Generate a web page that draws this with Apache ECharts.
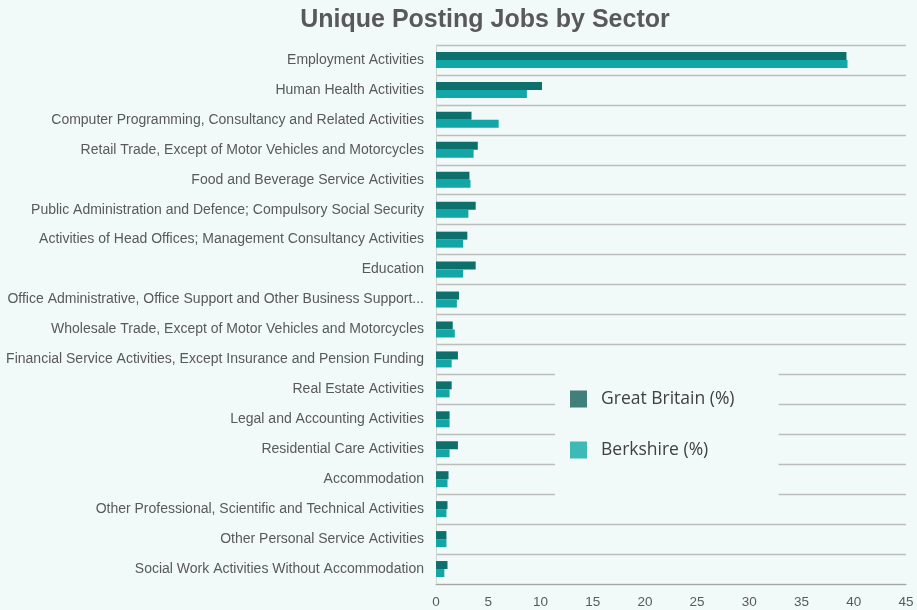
<!DOCTYPE html>
<html><head><meta charset="utf-8">
<script src="https://cdn.jsdelivr.net/npm/echarts@6/dist/echarts.min.js"></script>
<style>html,body{margin:0;padding:0;background:#f2f9f9}#c{width:917px;height:610px}</style>
</head><body><div id="c"></div>
<script>
const categories = [
  "Employment Activities",
  "Human Health Activities",
  "Computer Programming, Consultancy and Related Activities",
  "Retail Trade, Except of Motor Vehicles and Motorcycles",
  "Food and Beverage Service Activities",
  "Public Administration and Defence; Compulsory Social Security",
  "Activities of Head Offices; Management Consultancy Activities",
  "Education",
  "Office Administrative, Office Support and Other Business Support...",
  "Wholesale Trade, Except of Motor Vehicles and Motorcycles",
  "Financial Service Activities, Except Insurance and Pension Funding",
  "Real Estate Activities",
  "Legal and Accounting Activities",
  "Residential Care Activities",
  "Accommodation",
  "Other Professional, Scientific and Technical Activities",
  "Other Personal Service Activities",
  "Social Work Activities Without Accommodation"
];
const greatBritain = [39.3, 10.15, 3.4, 4.0, 3.2, 3.8, 3.0, 3.8, 2.2, 1.6, 2.1, 1.5, 1.3, 2.1, 1.2, 1.1, 1.0, 1.1];
const berkshire =    [39.4, 8.7, 6.0, 3.6, 3.3, 3.1, 2.6, 2.6, 2.0, 1.8, 1.5, 1.3, 1.3, 1.3, 1.1, 1.0, 1.0, 0.8];
const xTicks = [0, 5, 10, 15, 20, 25, 30, 35, 40, 45];

const bg = '#f2f9f9';
const chart = echarts.init(document.getElementById('c'));
chart.setOption({
  backgroundColor: bg,
  animation: false,
  title: {
    text: 'Unique Posting Jobs by Sector',
    left: 480, textAlign: 'center', top: 3,
    textStyle: {fontFamily: 'Liberation Sans, Arial', fontSize: 25, fontWeight: 'bold', color: '#595959'}
  },
  grid: {left: 436, right: 11, top: 45, bottom: 26},
  xAxis: {
    type: 'value', min: xTicks[0], max: xTicks[xTicks.length-1], interval: 5,
    axisLine: {show: true, lineStyle: {color: '#a6a6a6', width: 1}},
    axisTick: {show: false},
    splitLine: {show: false},
    axisLabel: {color: '#595959', fontFamily: 'Liberation Sans, Arial', fontSize: 13.5, margin: 11}
  },
  yAxis: {
    type: 'category', data: categories, inverse: true,
    axisLine: {show: true, lineStyle: {color: '#d0d6d6', width: 1}},
    axisTick: {show: false},
    splitLine: {show: true, lineStyle: {color: '#bdbdbd', width: 1.3}},
    axisLabel: {color: '#595959', fontFamily: 'Liberation Sans, Arial', fontSize: 14, margin: 12}
  },
  legend: {
    orient: 'vertical', left: 555, top: 365,
    backgroundColor: bg,
    padding: [25, 44, 48, 15],
    itemWidth: 17, itemHeight: 17, itemGap: 33,
    icon: 'rect',
    textStyle: {color: '#404040', fontFamily: 'Open Sans', fontSize: 17.5, padding: [0, 0, 0, 9]},
    data: [
      {name: 'Great Britain (%)', itemStyle: {color: '#417f7b'}},
      {name: 'Berkshire (%)', itemStyle: {color: '#3dbab8'}}
    ]
  },
  series: [
    {name: 'Great Britain (%)', type: 'bar', data: greatBritain, barWidth: 8, barGap: '0%',
     itemStyle: {color: '#0e706c'}},
    {name: 'Berkshire (%)', type: 'bar', data: berkshire, barWidth: 8, barGap: '0%',
     itemStyle: {color: '#13a6a6'}}
  ]
});
</script></body></html>
